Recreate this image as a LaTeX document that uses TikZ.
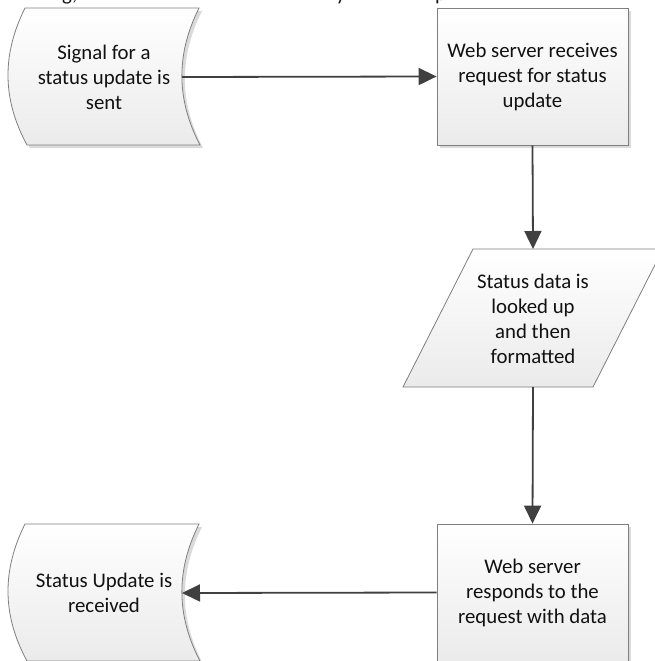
\documentclass[tikz,border=0pt]{standalone}
\usepackage{fontspec}
\setmainfont{Carlito}
\usetikzlibrary{arrows.meta,shadows}

\definecolor{edgegray}{HTML}{7F7F7F}
\definecolor{arrowgray}{HTML}{404040}
\definecolor{shadowgray}{HTML}{DADADA}
\definecolor{txtcol}{HTML}{111111}

% outline of the curved "stored data" symbol
\newcommand{\storedshape}{(25,8) -- (199,8) .. controls (176,54) and (176,99) .. (200,145)
  -- (27,145) .. controls (2,99) and (2,54) .. (25,8) -- cycle}

\tikzset{
  shapefill/.style={top color=white, bottom color=black!8, draw=edgegray, line width=0.8pt},
  shapeshadow/.style={fill=shadowgray},
  procbox/.style={rectangle, shapefill, minimum width=191pt, minimum height=137pt,
    drop shadow={shadow xshift=3pt, shadow yshift=-3pt, fill=shadowgray, opacity=1}},
  flowtext/.style={align=center, font=\fontsize{20.8}{25}\selectfont, text=txtcol, inner sep=0pt},
  flowarrow/.style={draw=arrowgray, line width=1.8pt, -{Triangle[length=18pt,width=17pt]}},
}

\begin{document}
\begin{tikzpicture}
    [line join=miter, x={(1pt,0pt)}, y={(0pt,-1pt)}]
    \useasboundingbox (0,0) rectangle (655,661);
    \clip (0,0) rectangle (655,661);

    % clipped caption above
    \node[flowtext, anchor=base west] (cap1) at (62,0.5) {g,};
    \node[flowtext, anchor=base west] (cap2) at (336,0.5) {y};
    \node[flowtext, anchor=base west] (cap3) at (435,0.5) {p};

    % signal sent
    \fill[shapeshadow, shift={(3,3)}] \storedshape;
    \draw[shapefill] \storedshape;
    \node[flowtext] (signal) at (104,77) {Signal for a\\status update is\\sent};
    \coordinate (signal-out) at (182,77);

    % request received
    \node[procbox, flowtext] (receive) at (532.5,76.5) {Web server receives\\request for status\\update};

    % lookup and format
    \coordinate (P1) at (473,249);
    \coordinate (P2) at (663,249);
    \coordinate (P3) at (593,387);
    \coordinate (P4) at (403,387);
    \fill[shapeshadow, shift={(3,3)}] (P1) -- (P2) -- (P3) -- (P4) -- cycle;
    \draw[shapefill] (P1) -- (P2) -- (P3) -- (P4) -- cycle;
    \node[flowtext] (format) at (533,319) {Status data is\\looked up\\and then\\formatted};
    \coordinate (format-in) at (533,249);
    \coordinate (format-out) at (533,387);

    % response
    \node[procbox, flowtext] (respond) at (532.5,592.5) {Web server\\responds to the\\request with data};

    % update received
    \begin{scope}[shift={(0,516)}]
      \fill[shapeshadow, shift={(3,3)}] \storedshape;
      \draw[shapefill] \storedshape;
    \end{scope}
    \node[flowtext] (received) at (104,593) {Status Update is\\received};
    \coordinate (received-in) at (182,593);

    \draw[flowarrow] (signal-out) -- (receive.west);
    \draw[flowarrow] (receive.south) -- (format-in);
    \draw[flowarrow] (format-out) -- (respond.north);
    \draw[flowarrow] (respond.west) -- (received-in);
\end{tikzpicture}
\end{document}
